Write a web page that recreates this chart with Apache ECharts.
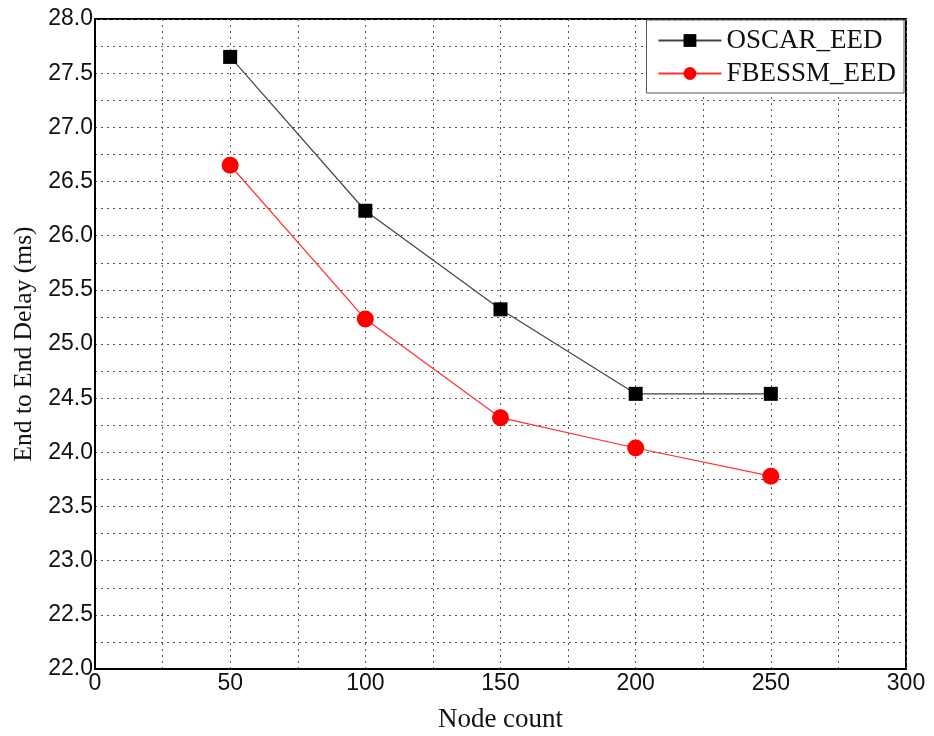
<!DOCTYPE html>
<html>
<head>
<meta charset="utf-8">
<script src="https://cdn.jsdelivr.net/npm/echarts@6/dist/echarts.min.js"></script>
<style>html,body{margin:0;padding:0;background:#fff}#c{width:934px;height:736px}</style>
</head>
<body>
<div id="c"></div>
<script>
const nodeCounts = [50, 100, 150, 200, 250];
const oscarEED = [27.65, 26.23, 25.32, 24.54, 24.54];
const fbessmEED = [26.65, 25.23, 24.32, 24.04, 23.78];
const seriesNames = ['OSCAR_EED', 'FBESSM_EED'];

const chart = echarts.init(document.getElementById('c'));
const dotted = { show: true, lineStyle: { color: '#555', type: [2, 4], width: 1 } };
chart.setOption({
  animation: false,
  backgroundColor: '#fff',
  grid: { left: 95, right: 28, top: 19, bottom: 67, containLabel: false, outerBoundsMode: 'none',
    show: true, borderColor: '#000', borderWidth: 2, backgroundColor: 'transparent' },
  legend: {
    right: 30, top: 20, orient: 'vertical',
    data: seriesNames,
    itemWidth: 63, itemHeight: 16, itemGap: 6,
    padding: [7, 8, 6, 11],
    backgroundColor: '#fff', borderColor: '#555', borderWidth: 1,
    textStyle: { fontFamily: 'Liberation Serif', fontSize: 27, color: '#111' }
  },
  xAxis: {
    type: 'value', min: 0, max: 300, interval: 25,
    name: 'Node count', nameLocation: 'middle', nameGap: 37,
    nameTextStyle: { fontFamily: 'Liberation Serif', fontSize: 27, color: '#111' },
    axisLine: { lineStyle: { color: '#000', width: 2 } },
    axisTick: { show: false },
    axisLabel: { fontFamily: 'Liberation Sans', fontSize: 23, color: '#111', margin: 3,
      formatter: v => (v % 50 === 0 ? String(v) : '') },
    splitLine: dotted
  },
  yAxis: {
    type: 'value', min: 22, max: 28, interval: 0.25,
    name: 'End to End Delay (ms)', nameLocation: 'middle', nameGap: 58,
    nameTextStyle: { fontFamily: 'Liberation Serif', fontSize: 25.5, color: '#111' },
    axisLine: { lineStyle: { color: '#000', width: 2 } },
    axisTick: { show: false },
    axisLabel: { fontFamily: 'Liberation Sans', fontSize: 23, color: '#111', margin: 2,
      formatter: v => (Math.abs(v * 2 - Math.round(v * 2)) < 1e-6 ? v.toFixed(1) : '') },
    splitLine: dotted
  },
  series: [
    { name: seriesNames[0], type: 'line', data: nodeCounts.map((x, i) => [x, oscarEED[i]]),
      symbol: 'rect', symbolSize: 14, itemStyle: { color: '#000' },
      lineStyle: { color: '#444', width: 1.2 } },
    { name: seriesNames[1], type: 'line', data: nodeCounts.map((x, i) => [x, fbessmEED[i]]),
      symbol: 'circle', symbolSize: 17, itemStyle: { color: '#ff0000' },
      lineStyle: { color: '#ff3030', width: 1.2 } }
  ]
});
</script>
</body>
</html>
